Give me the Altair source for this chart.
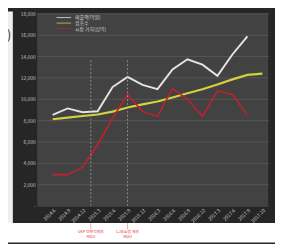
import altair as alt
import pandas as pd

periods = ["2014.6", "2014.9", "2014.12", "2015.3", "2015.6", "2015.9", "2015.12",
           "2016.3", "2016.6", "2016.9", "2016.12", "2017.3", "2017.6", "2017.9", "2017.10"]
sales = [8500, 9100, 8750, 8830, 11100, 12050, 11300, 10900, 12750, 13700, 13200, 12150, 14150, 15850, None]
stores = [8090, 8240, 8390, 8530, 8800, 9190, 9480, 9750, 10130, 10520, 10900, 11350, 11820, 12240, 12360]
value = [2900, 2900, 3600, 5700, 8200, 10400, 8800, 8350, 10950, 9950, 8350, 10750, 10400, 8450, None]

series_names = ["매출액(억원)", "점포수", "시장 가치(십억)"]
series_colors = ["#e4e4e4", "#d3d140", "#c3202c"]
series_widths = [2.0, 2.2, 1.6]

event_line1 = ["SKP 전략적제휴", "CJ오쇼핑 제휴"]
event_line2 = ["MOU", "MOU"]
event_pos = [2.55, 5.0]
event_top = [13600, 13600]

y_ticks = list(range(0, 18001, 2000))

W, H = 238, 198
one = pd.DataFrame({"a": [0]})

label_expr = "[" + ",".join(f"'{p}'" for p in periods) + "][datum.value]"
xscale = alt.Scale(domain=[-1.037, 14.39], nice=False, zero=False)
yscale = alt.Scale(domain=[0, 18000], nice=False)

xaxis = alt.Axis(values=list(range(len(periods))), labelExpr=label_expr,
                 labelAngle=-45, labelFontSize=5, labelColor="#c8c8c8",
                 labelPadding=2, ticks=False, domain=False, grid=False,
                 labelOverlap=False, labelBound=False, title=None)
yaxis = alt.Axis(values=y_ticks,
                 labelExpr="datum.value == 0 ? '-' : format(datum.value, ',')",
                 labelFontSize=5, labelColor="#c8c8c8", labelPadding=2,
                 ticks=False, domain=False, grid=True,
                 gridColor="#5c5c5c", gridWidth=0.8, labelOverlap=False,
                 labelBound=False, title=None)


def X(field):
    return alt.X(field, scale=xscale, axis=xaxis)


def Y(field):
    return alt.Y(field, scale=yscale, axis=yaxis)


layers = []

# white area below the dark frame and light strip at left
layers.append(alt.Chart(one).mark_rect(color="#ffffff").encode(
    x=alt.value(-30), x2=alt.value(245), y=alt.value(216), y2=alt.value(236)))
layers.append(alt.Chart(one).mark_rect(color="#efefef").encode(
    x=alt.value(-30), x2=alt.value(-25), y=alt.value(-2), y2=alt.value(216)))
layers.append(alt.Chart(one).mark_text(text=")", fontSize=13, color="#333333", align="left",
                                       baseline="middle").encode(
    x=alt.value(-31), y=alt.value(22)))

# data lines
for k, vals in enumerate([sales, stores, value]):
    df = pd.DataFrame({"idx": list(range(len(periods))), "val": vals}).dropna()
    layers.append(alt.Chart(df).mark_line(color=series_colors[k], strokeWidth=series_widths[k]).encode(
        x=X("idx:Q"), y=Y("val:Q")))

ev = pd.DataFrame({"pos": event_pos, "top": event_top, "l1": event_line1, "l2": event_line2})

# event lines and notes
layers.append(alt.Chart(ev).mark_rule(color="#b0b0b0", strokeDash=[2, 2], strokeWidth=0.7).encode(
    x=X("pos:Q"), y=Y("top:Q"), y2=alt.value(H)))
layers.append(alt.Chart(ev).mark_rule(color="#f08080", strokeWidth=0.7).encode(
    x=X("pos:Q"), y=alt.value(216), y2=alt.value(222.5)))
layers.append(alt.Chart(ev).mark_text(color="#e8303a", fontSize=4, baseline="middle").encode(
    x=X("pos:Q"), y=alt.value(225), text="l1:N"))
layers.append(alt.Chart(ev).mark_text(color="#e8303a", fontSize=4, baseline="middle").encode(
    x=X("pos:Q"), y=alt.value(230.5), text="l2:N"))

# legend
for i, name in enumerate(series_names):
    yy = 4.3 + 5.7 * i
    layers.append(alt.Chart(one).mark_rule(color=series_colors[i], strokeWidth=1, opacity=0.8).encode(
        x=alt.value(20), x2=alt.value(35), y=alt.value(yy)))
    layers.append(alt.Chart(one).mark_text(text=name, fontSize=5, color="#cfcfcf", align="left",
                                           baseline="middle").encode(
        x=alt.value(39), y=alt.value(yy)))

chart = alt.layer(*layers).properties(
    width=W, height=H,
    autosize=alt.AutoSizeParams(type="none"),
    padding={"left": 30, "top": 2, "right": 7, "bottom": 36},
    background="#262626",
).configure(
    font="Noto Sans CJK KR"
).configure_view(fill="#424242", stroke=None)

chart.save("out.html", embed_options={"renderer": "svg", "actions": False})
